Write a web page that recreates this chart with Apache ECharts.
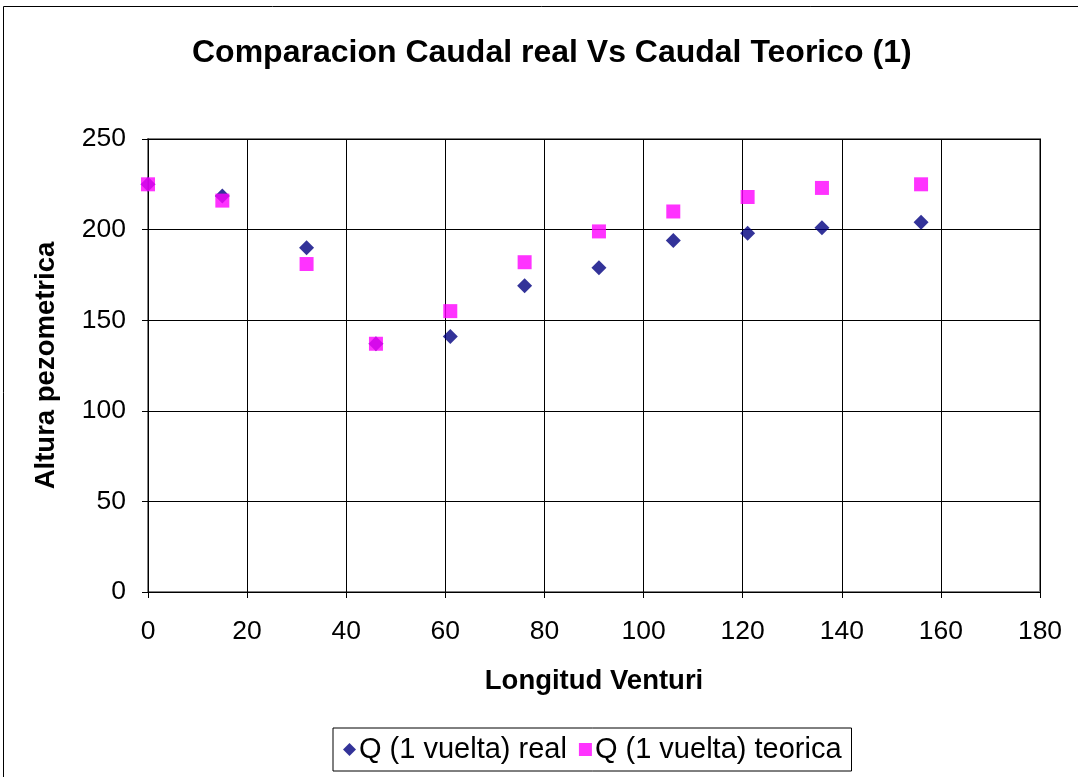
<!DOCTYPE html>
<html>
<head>
<meta charset="utf-8">
<script src="https://cdn.jsdelivr.net/npm/echarts@6/dist/echarts.min.js"></script>
<style>html,body{margin:0;padding:0;background:#fff}#c{width:1078px;height:777px}</style>
</head>
<body>
<div id="c"></div>
<script>
const xValues = [0, 15, 32, 46, 61, 76, 91, 106, 121, 136, 156];
const realValues = [225, 218.5, 190, 137, 141, 169, 179, 194, 198, 201, 204];
const teoricaValues = [225, 216, 181, 137, 155, 182, 199, 210, 218, 223, 225];
const seriesNames = ['Q (1 vuelta) real', 'Q (1 vuelta) teorica'];
const titleText = 'Comparacion Caudal real Vs Caudal Teorico (1)';
const xName = 'Longitud Venturi';
const yName = 'Altura pezometrica';

const FONT = '"Liberation Sans", Arial, sans-serif';
const chart = echarts.init(document.getElementById('c'), null, {renderer: 'canvas'});
const pair = arr => xValues.map((x, i) => [x, arr[i]]);
chart.setOption({
  animation: false,
  backgroundColor: '#fff',
  graphic: [{
    type: 'rect', shape: {x: 3.5, y: 6.5, width: 1100, height: 800},
    style: {fill: 'none', stroke: '#000', lineWidth: 1}, z: -1
  }, {
    type: 'rect', shape: {x: 148, y: 139, width: 892, height: 453},
    style: {fill: 'none', stroke: '#808080', lineWidth: 2}, z: 0
  }],
  title: {
    text: titleText, left: 187, top: 32,
    textStyle: {fontFamily: FONT, fontSize: 32, fontWeight: 'bold', color: '#000'}
  },
  grid: {left: 148, top: 139, width: 892, height: 453, containLabel: false},
  xAxis: {
    type: 'value', min: 0, max: 180, interval: 20,
    name: xName, nameLocation: 'middle', nameGap: 75,
    nameTextStyle: {fontFamily: FONT, fontSize: 27.5, fontWeight: 'bold', color: '#000'},
    axisLine: {show: true, onZero: false, lineStyle: {color: '#000', width: 1}},
    axisTick: {show: true, length: 6, lineStyle: {color: '#000'}},
    axisLabel: {fontFamily: FONT, fontSize: 26.5, color: '#000', margin: 26},
    splitLine: {show: true, lineStyle: {color: '#000', width: 1}}
  },
  yAxis: {
    type: 'value', min: 0, max: 250, interval: 50,
    name: yName, nameLocation: 'middle', nameGap: 88,
    nameTextStyle: {fontFamily: FONT, fontSize: 27.5, fontWeight: 'bold', color: '#000'},
    axisLine: {show: true, onZero: false, lineStyle: {color: '#000', width: 1}},
    axisTick: {show: true, length: 6, lineStyle: {color: '#000'}},
    axisLabel: {fontFamily: FONT, fontSize: 26.5, color: '#000', margin: 22},
    splitLine: {show: true, lineStyle: {color: '#000', width: 1}}
  },
  legend: {
    bottom: 6, left: 333,
    borderColor: '#000', borderWidth: 1, padding: [7, 10, 7, 10],
    itemGap: 12, itemWidth: 13, itemHeight: 13,
    textStyle: {fontFamily: FONT, fontSize: 29, color: '#000', padding: [0, 0, 0, -2]},
    data: [{name: seriesNames[0], icon: 'diamond'}, {name: seriesNames[1], icon: 'rect'}]
  },
  series: [{
    name: seriesNames[0], type: 'scatter', data: pair(realValues),
    symbol: 'diamond', symbolSize: 15, itemStyle: {color: '#000080'}, z: 3
  }, {
    name: seriesNames[1], type: 'scatter', data: pair(teoricaValues),
    symbol: 'rect', symbolSize: 14, itemStyle: {color: '#FF00FF'}, z: 4
  }]
});
</script>
</body>
</html>
